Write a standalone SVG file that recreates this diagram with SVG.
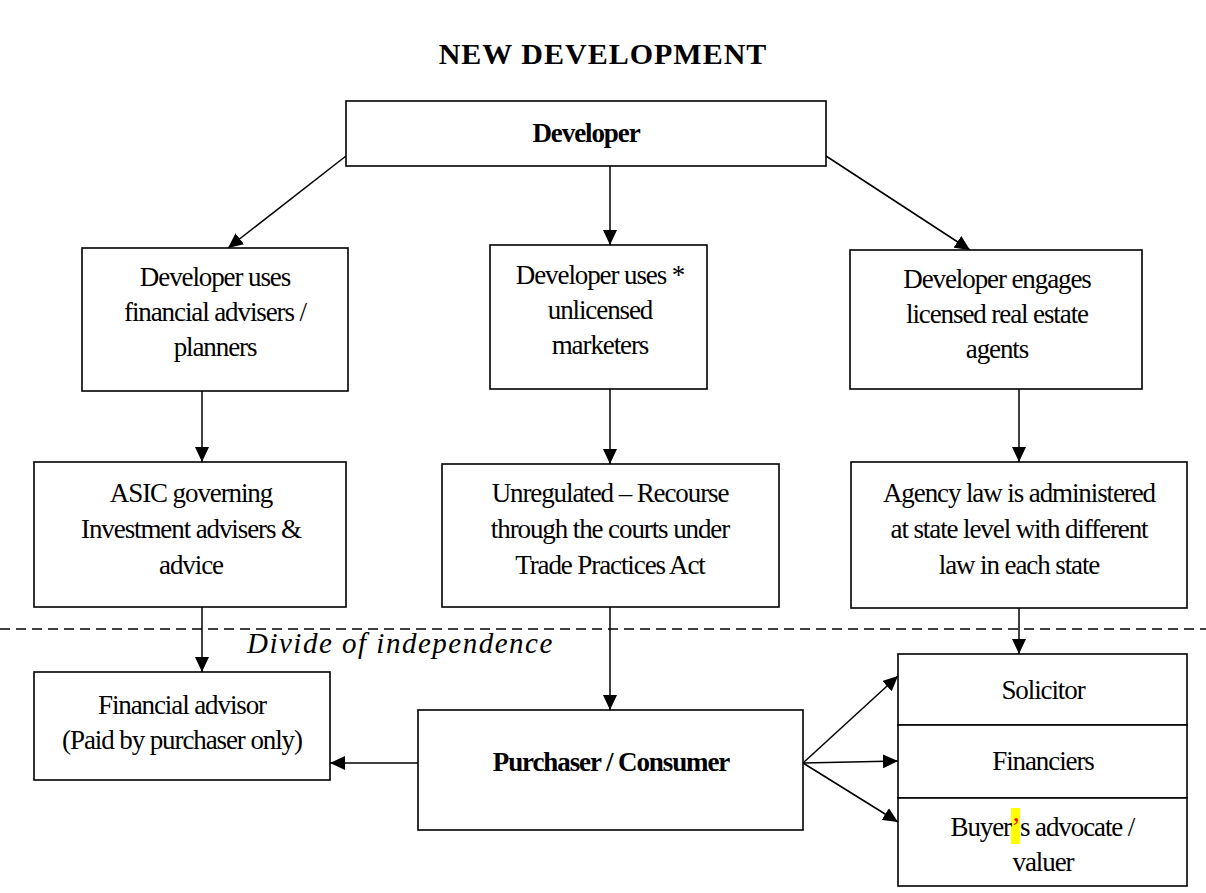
<svg xmlns="http://www.w3.org/2000/svg" width="1206" height="893" viewBox="0 0 1206 893">
  <defs>
    <marker id="arrow" markerUnits="userSpaceOnUse" markerWidth="16" markerHeight="14" refX="15" refY="7" orient="auto">
      <path d="M0,0 L15,7 L0,14 Z" fill="#000"/>
    </marker>
    <style>
      .box { fill: #fff; stroke: #000; stroke-width: 1.6; }
      .t { font-family: "Liberation Serif", "Times New Roman", serif; font-size: 27px; letter-spacing: -1.1px; fill: #000; text-anchor: middle; }
      .b { font-weight: bold; }
      .edge { stroke: #000; stroke-width: 1.5; fill: none; marker-end: url(#arrow); }
      .divide { stroke: #000; stroke-width: 1.3; stroke-dasharray: 10 6; }
      .title { font-family: "Liberation Serif", "Times New Roman", serif; font-size: 30px; letter-spacing: 1px; font-weight: bold; text-anchor: middle; fill: #000; }
      .note { font-family: "Liberation Serif", "Times New Roman", serif; font-size: 29px; letter-spacing: 1.5px; font-style: italic; fill: #000; }
    </style>
  </defs>

  <rect width="1206" height="893" fill="#fff"/>

  <text class="title" x="603" y="64">NEW DEVELOPMENT</text>

  <!-- divide line between developer side and purchaser side -->
  <line class="divide" x1="0" y1="629" x2="1206" y2="629"/>
  <text class="note" x="247" y="653">Divide of independence</text>

  <g id="connectors">
    <line class="edge" x1="346" y1="156" x2="228" y2="248"/>
    <line class="edge" x1="610" y1="166" x2="610" y2="245"/>
    <line class="edge" x1="826" y1="156" x2="970" y2="250"/>
    <line class="edge" x1="202" y1="391" x2="202" y2="462"/>
    <line class="edge" x1="610" y1="389" x2="610" y2="464"/>
    <line class="edge" x1="1019" y1="389" x2="1019" y2="462"/>
    <line class="edge" x1="202" y1="607" x2="202" y2="672"/>
    <line class="edge" x1="610" y1="607" x2="610" y2="710"/>
    <line class="edge" x1="1019" y1="608" x2="1019" y2="654"/>
    <line class="edge" x1="418" y1="763" x2="330" y2="763"/>
    <line class="edge" x1="803" y1="763" x2="898" y2="676"/>
    <line class="edge" x1="803" y1="763" x2="898" y2="761"/>
    <line class="edge" x1="803" y1="763" x2="898" y2="822"/>
  </g>

  <g id="developer">
    <rect class="box" x="346" y="101" width="480" height="65"/>
    <text class="t b" x="586" y="142">Developer</text>
  </g>

  <g id="financial-planners">
    <rect class="box" x="82" y="248" width="266" height="143"/>
    <text class="t" x="215" y="286">Developer uses</text>
    <text class="t" x="215" y="321">financial advisers /</text>
    <text class="t" x="215" y="356">planners</text>
  </g>

  <g id="unlicensed-marketers">
    <rect class="box" x="490" y="245" width="217" height="144"/>
    <text class="t" x="600" y="284">Developer uses *</text>
    <text class="t" x="600" y="319">unlicensed</text>
    <text class="t" x="600" y="354">marketers</text>
  </g>

  <g id="real-estate-agents">
    <rect class="box" x="850" y="250" width="292" height="139"/>
    <text class="t" x="997" y="288">Developer engages</text>
    <text class="t" x="997" y="323">licensed real estate</text>
    <text class="t" x="997" y="358">agents</text>
  </g>

  <g id="asic">
    <rect class="box" x="34" y="462" width="312" height="145"/>
    <text class="t" x="191" y="502">ASIC governing</text>
    <text class="t" x="191" y="538">Investment advisers &amp;</text>
    <text class="t" x="191" y="574">advice</text>
  </g>

  <g id="unregulated">
    <rect class="box" x="442" y="464" width="337" height="143"/>
    <text class="t" x="610" y="502">Unregulated – Recourse</text>
    <text class="t" x="610" y="538">through the courts under</text>
    <text class="t" x="610" y="574">Trade Practices Act</text>
  </g>

  <g id="agency-law">
    <rect class="box" x="851" y="462" width="336" height="146"/>
    <text class="t" x="1019" y="502">Agency law is administered</text>
    <text class="t" x="1019" y="538">at state level with different</text>
    <text class="t" x="1019" y="574">law in each state</text>
  </g>

  <g id="financial-advisor">
    <rect class="box" x="34" y="672" width="296" height="108"/>
    <text class="t" x="182" y="714">Financial advisor</text>
    <text class="t" x="182" y="749">(Paid by purchaser only)</text>
  </g>

  <g id="purchaser">
    <rect class="box" x="418" y="710" width="385" height="120"/>
    <text class="t b" x="611" y="771">Purchaser / Consumer</text>
  </g>

  <g id="solicitor">
    <rect class="box" x="898" y="654" width="289" height="71"/>
    <text class="t" x="1043" y="699">Solicitor</text>
  </g>

  <g id="financiers">
    <rect class="box" x="898" y="725" width="289" height="73"/>
    <text class="t" x="1043" y="770">Financiers</text>
  </g>

  <g id="buyers-advocate">
    <rect class="box" x="898" y="798" width="289" height="88"/>
    <rect x="1011" y="808" width="9" height="36" fill="#ffff00"/>
    <text class="t" x="1011" y="836" style="text-anchor:end">Buyer</text>
    <text class="t" x="1015.5" y="836" style="fill:#ff0000">’</text>
    <text class="t" x="1020" y="836" style="text-anchor:start">s advocate /</text>
    <text class="t" x="1043" y="871">valuer</text>
  </g>
</svg>
